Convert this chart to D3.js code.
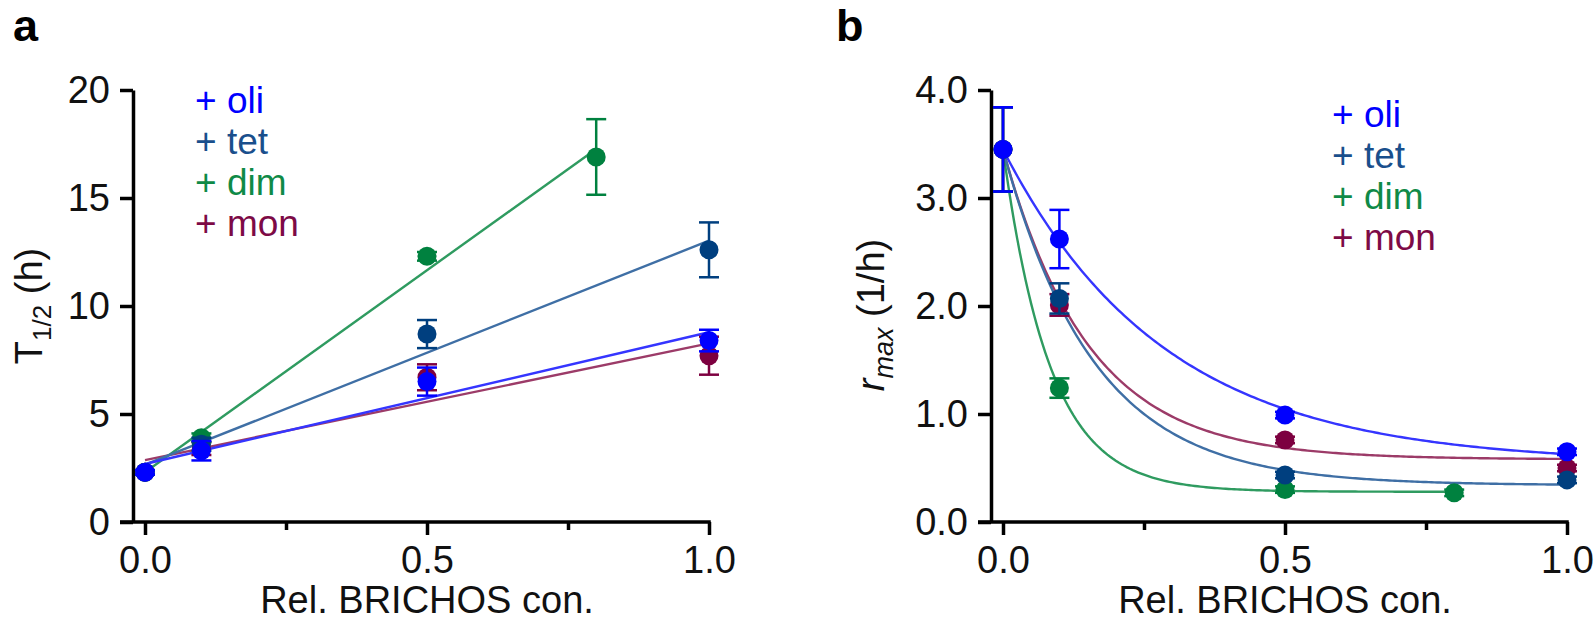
<!DOCTYPE html>
<html>
<head>
<meta charset="utf-8">
<script src="https://cdn.jsdelivr.net/npm/d3@7"></script>
<style>
  body { margin: 0; background: #fff; }
</style>
</head>
<body>
<div id="chart"></div>
<script>
// relative BRICHOS concentration (x values)
const concFull = [0, 0.1, 0.5, 1.0];
const concDim = [0, 0.1, 0.5, 0.8];

const seriesNames = ['oli', 'tet', 'dim', 'mon'];

// panel a: T1/2 (h)
const oliHalf = [2.3, 3.3, 6.5, 8.4];
const oliHalfErr = [0.1, 0.45, 0.65, 0.5];
const tetHalf = [2.3, 3.6, 8.7, 12.6];
const tetHalfErr = [0.1, 0.3, 0.65, 1.27];
const dimHalf = [2.3, 3.9, 12.3, 16.9];
const dimHalfErr = [0.1, 0.2, 0.2, 1.75];
const monHalf = [2.3, 3.4, 6.7, 7.7];
const monHalfErr = [0.1, 0.3, 0.6, 0.88];

// panel b: r_max (1/h)
const oliRate = [3.45, 2.62, 0.99, 0.65];
const oliRateErr = [0.39, 0.27, 0.03, 0.03];
const tetRate = [3.45, 2.07, 0.435, 0.39];
const tetRateErr = [0.39, 0.14, 0.03, 0.03];
const dimRate = [3.45, 1.24, 0.3, 0.27];
const dimRateErr = [0.39, 0.09, 0.03, 0.03];
const monRate = [3.45, 2.01, 0.76, 0.5];
const monRateErr = [0.39, 0.1, 0.03, 0.03];

// exponential decay fits: plateau + (y0 - plateau) * exp(-k * c)
const rateFitPlateau = [0.54, 0.34, 0.28, 0.58];
const rateFitK = [3.5, 6.2, 12, 6.6];

// tick values
const xMajorTicks = [0, 0.5, 1.0];
const xMinorTicks = [0.25, 0.75];
const halfTicks = [0, 5, 10, 15, 20];
const rateTicks = [0, 1, 2, 3, 4];

// styles
const markerColors = ['#0000ff', '#003f7f', '#00813f', '#7d0040'];
const lineColors = ['#3535ff', '#3f6fa5', '#2f9b60', '#9c3b68'];
const legendColors = ['#0000ff', '#1a4f8c', '#0f8a47', '#7d0a46'];
const drawOrder = [3, 2, 1, 0];
const font = "'Liberation Sans', Arial, Helvetica, sans-serif";

const svg = d3
  .select('#chart')
  .append('svg')
  .attr('width', 1596)
  .attr('height', 624)
  .style('font-family', font);

function linFit(xs, ys) {
  const mx = d3.mean(xs);
  const my = d3.mean(ys);
  const sxy = d3.sum(xs, (v, i) => (v - mx) * (ys[i] - my));
  const sxx = d3.sum(xs, (v) => (v - mx) * (v - mx));
  const m = sxy / sxx;
  return { m, b: my - m * mx };
}

function drawPanel(p) {
  const x = d3.scaleLinear().domain([0, 1]).range(p.xRange);
  const y = d3.scaleLinear().domain(p.yDomain).range([522, 90]);
  const axisX = x(0) - 12;
  const g = svg.append('g');

  // y axis
  g.append('g')
    .attr('transform', `translate(${axisX},0)`)
    .call(
      d3
        .axisLeft(y)
        .tickValues(p.yTicks)
        .tickFormat(p.yFormat)
        .tickSize(13)
        .tickSizeOuter(0)
        .tickPadding(10)
    )
    .attr('font-size', 38)
    .attr('font-family', font)
    .call((gr) => gr.selectAll('line, path').attr('stroke-width', 3.5))
    .call((gr) => gr.selectAll('text').attr('fill', '#111'));

  // x axis, major + minor ticks
  g.append('g')
    .attr('transform', `translate(0,${y(0)})`)
    .call(
      d3
        .axisBottom(x)
        .tickValues(xMajorTicks)
        .tickFormat(d3.format('.1f'))
        .tickSize(13)
        .tickPadding(11)
    )
    .attr('font-size', 38)
    .attr('font-family', font)
    .call((gr) => gr.select('.domain').remove())
    .call((gr) => gr.selectAll('line').attr('stroke-width', 3.5))
    .call((gr) => gr.selectAll('text').attr('fill', '#111'));

  g.append('g')
    .attr('transform', `translate(0,${y(0)})`)
    .call(d3.axisBottom(x).tickValues(xMinorTicks).tickFormat('').tickSize(8))
    .call((gr) => gr.select('.domain').remove())
    .call((gr) => gr.selectAll('line').attr('stroke-width', 3.5));

  g.append('line')
    .attr('x1', axisX - 13)
    .attr('x2', x(1) + 1.75)
    .attr('y1', y(0))
    .attr('y2', y(0))
    .attr('stroke', '#000')
    .attr('stroke-width', 3.5);

  // fits
  const line = d3
    .line()
    .x((d) => x(d[0]))
    .y((d) => y(d[1]));

  drawOrder.forEach((i) => {
    const s = p.series[i];
    g.append('path')
      .datum(p.fitPoints(s, i))
      .attr('fill', 'none')
      .attr('stroke', lineColors[i])
      .attr('stroke-width', 2.4)
      .attr('d', line);
  });

  // error bars and markers
  drawOrder.forEach((i) => {
    const s = p.series[i];
    const pts = s.x.map((c, j) => ({ c, v: s.y[j], e: s.err[j] }));
    const eb = g.append('g').attr('stroke', markerColors[i]).attr('stroke-width', 2.5);
    pts.forEach((d) => {
      eb.append('line')
        .attr('x1', x(d.c))
        .attr('x2', x(d.c))
        .attr('y1', y(d.v - d.e))
        .attr('y2', y(d.v + d.e));
      [d.v - d.e, d.v + d.e].forEach((v) => {
        eb.append('line')
          .attr('x1', x(d.c) - 10)
          .attr('x2', x(d.c) + 10)
          .attr('y1', y(v))
          .attr('y2', y(v));
      });
    });
    g.append('g')
      .selectAll('circle')
      .data(pts)
      .enter()
      .append('circle')
      .attr('cx', (d) => x(d.c))
      .attr('cy', (d) => y(d.v))
      .attr('r', 9.5)
      .attr('fill', markerColors[i]);
  });

  // legend
  seriesNames.forEach((name, i) => {
    g.append('text')
      .attr('x', p.legendX)
      .attr('y', p.legendY + i * 41)
      .attr('font-size', 37)
      .attr('fill', legendColors[i])
      .text('+ ' + name);
  });

  // x title
  g.append('text')
    .attr('x', x(0.5))
    .attr('y', 613)
    .attr('text-anchor', 'middle')
    .attr('font-size', 38)
    .attr('fill', '#111')
    .text('Rel. BRICHOS con.');

  // panel letter
  g.append('text')
    .attr('x', p.letterX)
    .attr('y', 41)
    .attr('font-size', 45)
    .attr('font-weight', 'bold')
    .text(p.letter);

  return g;
}

const halfSeries = [
  { x: concFull, y: oliHalf, err: oliHalfErr },
  { x: concFull, y: tetHalf, err: tetHalfErr },
  { x: concDim, y: dimHalf, err: dimHalfErr },
  { x: concFull, y: monHalf, err: monHalfErr },
];

const rateSeries = [
  { x: concFull, y: oliRate, err: oliRateErr },
  { x: concFull, y: tetRate, err: tetRateErr },
  { x: concDim, y: dimRate, err: dimRateErr },
  { x: concFull, y: monRate, err: monRateErr },
];

const gA = drawPanel({
  letter: 'a',
  letterX: 13,
  xRange: [145, 709],
  yDomain: [0, 20],
  yTicks: halfTicks,
  yFormat: d3.format('d'),
  legendX: 195,
  legendY: 113,
  series: halfSeries,
  fitPoints: (s) => {
    const f = linFit(s.x, s.y);
    const xmax = d3.max(s.x);
    return [
      [0, f.b],
      [xmax, f.b + f.m * xmax],
    ];
  },
});

const gB = drawPanel({
  letter: 'b',
  letterX: 836,
  xRange: [1003, 1567],
  yDomain: [0, 4],
  yTicks: rateTicks,
  yFormat: d3.format('.1f'),
  legendX: 1332,
  legendY: 127,
  series: rateSeries,
  fitPoints: (s, i) => {
    const y0 = s.y[0];
    const P = rateFitPlateau[i];
    const k = rateFitK[i];
    return d3
      .range(0, d3.max(s.x) + 1e-9, 0.005)
      .map((c) => [c, P + (y0 - P) * Math.exp(-k * c)]);
  },
});

// y titles
gA.append('text')
  .attr('transform', 'translate(42,306) rotate(-90)')
  .attr('text-anchor', 'middle')
  .attr('font-size', 38)
  .attr('fill', '#111')
  .call((t) => t.append('tspan').text('T'))
  .call((t) => t.append('tspan').attr('font-size', 26).attr('dy', 9).text('1/2'))
  .call((t) => t.append('tspan').attr('dy', -9).text(' (h)'));

gB.append('text')
  .attr('transform', 'translate(884,315) rotate(-90)')
  .attr('text-anchor', 'middle')
  .attr('font-size', 38)
  .attr('fill', '#111')
  .call((t) => t.append('tspan').attr('font-style', 'italic').text('r'))
  .call((t) =>
    t.append('tspan').attr('font-style', 'italic').attr('font-size', 27).attr('dy', 9).text('max')
  )
  .call((t) => t.append('tspan').attr('dy', -9).text(' (1/h)'));
</script>
</body>
</html>
